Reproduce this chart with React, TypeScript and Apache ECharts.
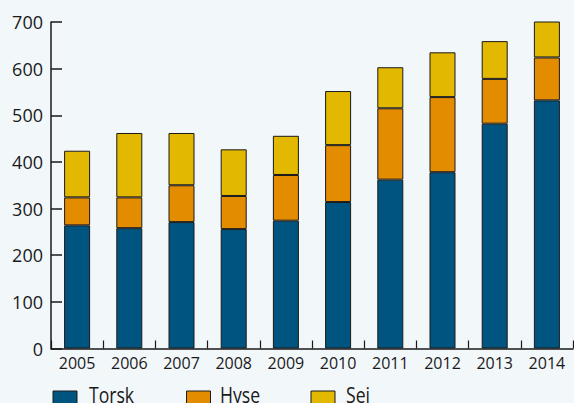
import React, { useEffect, useRef } from "react";
import * as echarts from "echarts";

const years = ["2005", "2006", "2007", "2008", "2009", "2010", "2011", "2012", "2013", "2014"];
const torsk = [264, 258, 271, 256, 274, 314, 362, 378, 482, 532];
const hyse = [60, 66, 79, 71, 98, 122, 153, 161, 96, 92];
const sei = [100, 138, 112, 100, 84, 116, 88, 96, 81, 79];
const seriesNames = ["Torsk", "Hyse", "Sei"];
const colors = ["#005580", "#e38c00", "#e2b800"];
const yTicks = [0, 700, 100]; // min, max, interval

const FONT = "'Open Sans', sans-serif";
const INK = "#1a1a1a";

export default function App() {
  const ref = useRef<HTMLDivElement>(null);
  useEffect(() => {
    if (!ref.current) return;
    const chart = echarts.init(ref.current, undefined, { renderer: "svg" });
    const data = [torsk, hyse, sei];
    const legendIconX = [53, 186.5, 311];
    const legendTextX = [89, 220, 346];
    const legendGraphic: any[] = [];
    seriesNames.forEach((n, i) => {
      legendGraphic.push({
        type: "rect",
        x: legendIconX[i],
        y: 391,
        shape: { x: 0, y: 0, width: 24, height: 14 },
        style: { fill: colors[i], stroke: INK, lineWidth: 1 },
      });
      legendGraphic.push({
        type: "text",
        x: legendTextX[i],
        y: 384,
        scaleX: 0.8,
        style: { text: n, fontFamily: FONT, fontSize: 22, fill: INK, align: "left", verticalAlign: "top" },
      });
    });
    chart.setOption({
      animation: false,
      backgroundColor: "#f2f7fa",
      grid: { left: 51, right: 1, top: 22, bottom: 54.5, containLabel: false },
      graphic: legendGraphic,
      xAxis: {
        type: "category",
        data: years,
        axisLine: { show: true, lineStyle: { color: INK, width: 1.5 } },
        axisTick: { show: true, inside: true, length: 8, lineStyle: { color: INK, width: 1.2 } },
        axisLabel: { fontFamily: FONT, fontSize: 16, color: INK, margin: 6 },
        splitLine: { show: false },
      },
      yAxis: {
        type: "value",
        min: yTicks[0],
        max: yTicks[1],
        interval: yTicks[2],
        axisLine: { show: true, lineStyle: { color: INK, width: 1.5 } },
        axisTick: { show: true, inside: true, length: 11, lineStyle: { color: INK, width: 1.5 } },
        axisLabel: { fontFamily: FONT, fontSize: 18, color: INK, margin: 8 },
        splitLine: { show: false },
      },
      series: seriesNames.map((n, i) => ({
        name: n,
        type: "bar",
        stack: "total",
        barWidth: 26,
        data: data[i],
        itemStyle: { color: colors[i], borderColor: INK, borderWidth: 1 },
      })),
    });
    return () => chart.dispose();
  }, []);
  return (
    <div
      ref={ref}
      style={{ position: "fixed", left: 0, top: 0, width: 574, height: 403, background: "#f2f7fa" }}
    />
  );
}
